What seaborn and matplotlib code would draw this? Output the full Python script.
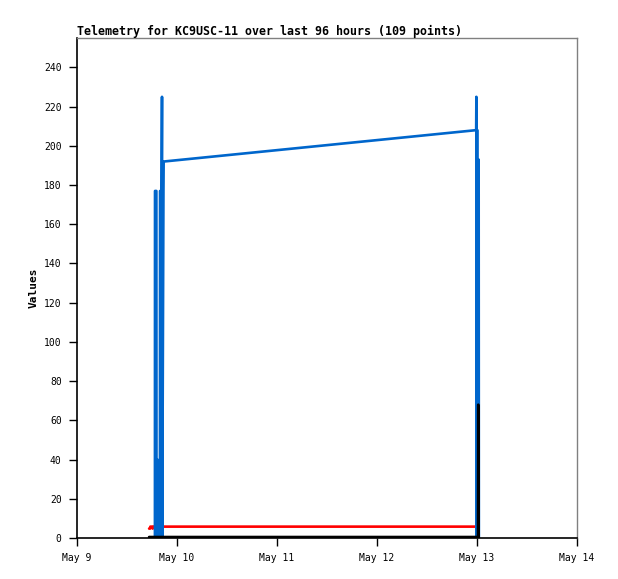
import matplotlib
matplotlib.use("Agg")
import matplotlib.pyplot as plt
import matplotlib.dates as mdates
import numpy as np
import pandas as pd
import seaborn as sns

# hours after May 9 00:00
start = pd.Timestamp("2024-05-09 00:00")

blue_hours = [18.70, 18.72, 19.05, 19.08, 19.30, 19.33, 19.90, 19.93, 20.30, 20.40,
              20.45, 20.75, 20.80, 95.80, 95.85, 95.90, 95.95, 96.10, 96.15, 96.40, 96.45]
blue_vals = [0, 177, 177, 0, 40, 0, 0, 177, 177, 225,
             0, 177, 192, 208, 225, 0, 208, 208, 0, 193, 0]

red_hours = [17.30, 17.55, 17.60, 18.10, 18.15, 18.40, 96.00]
red_vals = [4.8, 4.8, 5.8, 5.8, 4.8, 5.8, 5.8]

black_hours = [17.30, 96.25, 96.30, 96.35]
black_vals = [0.5, 0.5, 68, 0]

y_ticks = list(range(0, 241, 20))
day_ticks = ["2024-05-09", "2024-05-10", "2024-05-11", "2024-05-12", "2024-05-13", "2024-05-14"]


def to_frame(hours, vals, name):
    return pd.DataFrame({
        "time": start + pd.to_timedelta(hours, unit="h"),
        "value": vals,
        "series": name,
    })


df = pd.concat([
    to_frame(red_hours, red_vals, "red"),
    to_frame(blue_hours, blue_vals, "blue"),
    to_frame(black_hours, black_vals, "black"),
], ignore_index=True)

sns.set_style("white")
plt.rcParams["font.family"] = ["DejaVu Sans Mono"]

fig = plt.figure(figsize=(6.18, 5.79), dpi=100)
ax = fig.add_axes([77 / 618, 41 / 579, 500 / 618, 500 / 579])

colors = {"red": "#ff0000", "blue": "#0066cc", "black": "#000000"}
for name in ["red", "blue", "black"]:
    sub = df[df["series"] == name]
    sns.lineplot(data=sub, x="time", y="value", ax=ax, color=colors[name],
                 linewidth=1.9, estimator=None, sort=False, legend=False)

ax.set_xlim(pd.Timestamp(day_ticks[0]), pd.Timestamp(day_ticks[-1]))
ax.set_ylim(0, 255)
ax.set_yticks(y_ticks)
ax.set_xticks([pd.Timestamp(d) for d in day_ticks])
ax.xaxis.set_major_formatter(mdates.DateFormatter("%b %-d"))

ax.tick_params(axis="both", direction="out", length=6, width=1, colors="black",
               labelsize=7, left=True, bottom=True)
ax.tick_params(axis="y", pad=5)
ax.tick_params(axis="x", pad=5)

for side in ["left", "bottom"]:
    ax.spines[side].set_color("black")
    ax.spines[side].set_linewidth(1.2)
for side in ["top", "right"]:
    ax.spines[side].set_color("#808080")
    ax.spines[side].set_linewidth(1)

ax.set_xlabel("")
ax.set_ylabel("Values", fontsize=8, fontweight="bold", labelpad=4, color="black")
ax.set_title("Telemetry for KC9USC-11 over last 96 hours (109 points)",
             loc="left", fontsize=8.4, fontweight="bold", pad=2, color="black")

fig.savefig("out.png", dpi=100)
